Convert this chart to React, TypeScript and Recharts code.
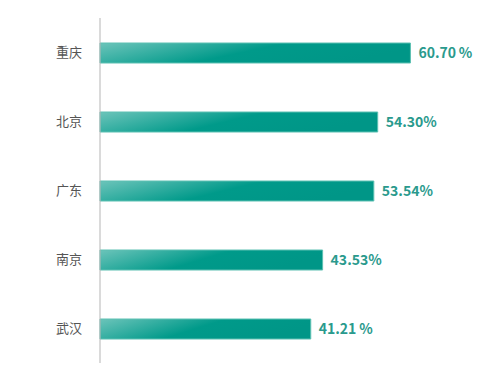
import { Bar, BarChart, LabelList, XAxis, YAxis } from "recharts";

const cities = ["重庆", "北京", "广东", "南京", "武汉"];
const shares = [60.7, 54.3, 53.54, 43.53, 41.21];
const shareLabels = ["60.70\u2009%", "54.30%", "53.54%", "43.53%", "41.21\u2009%"];

const data = cities.map((city, i) => ({ city, share: shares[i], label: shareLabels[i] }));

const FONT = '"Noto Sans CJK SC", "Noto Sans", sans-serif';

export default function App() {
  return (
    <div style={{ position: "absolute", left: 0, top: 0, width: 480, height: 378, background: "#fff" }}>
      <BarChart
        width={480}
        height={378}
        data={data}
        layout="vertical"
        margin={{ top: 18, right: 22, bottom: 15, left: 0 }}
        barSize={20}
      >
        <defs>
          <linearGradient id="barFill" x1="0" y1="0" x2="1" y2="0.3">
            <stop offset="0%" stopColor="#6cc4ba" />
            <stop offset="55%" stopColor="#009a8a" />
            <stop offset="100%" stopColor="#009687" />
          </linearGradient>
        </defs>
        <XAxis type="number" domain={[0, 70]} hide />
        <YAxis
          type="category"
          dataKey="city"
          width={100}
          axisLine={{ stroke: "#b5b5b5" }}
          tickLine={false}
          tickMargin={12}
          tick={{ fill: "#555", fontSize: 13, fontFamily: FONT }}
        />
        <Bar dataKey="share" fill="url(#barFill)" stroke="#5cc0b2" strokeWidth={1} isAnimationActive={false}>
          <LabelList
            dataKey="label"
            position="right"
            offset={8}
            fill="#2a9a8d"
            fontSize={14}
            fontWeight={600}
            fontFamily={FONT}
          />
        </Bar>
      </BarChart>
    </div>
  );
}
